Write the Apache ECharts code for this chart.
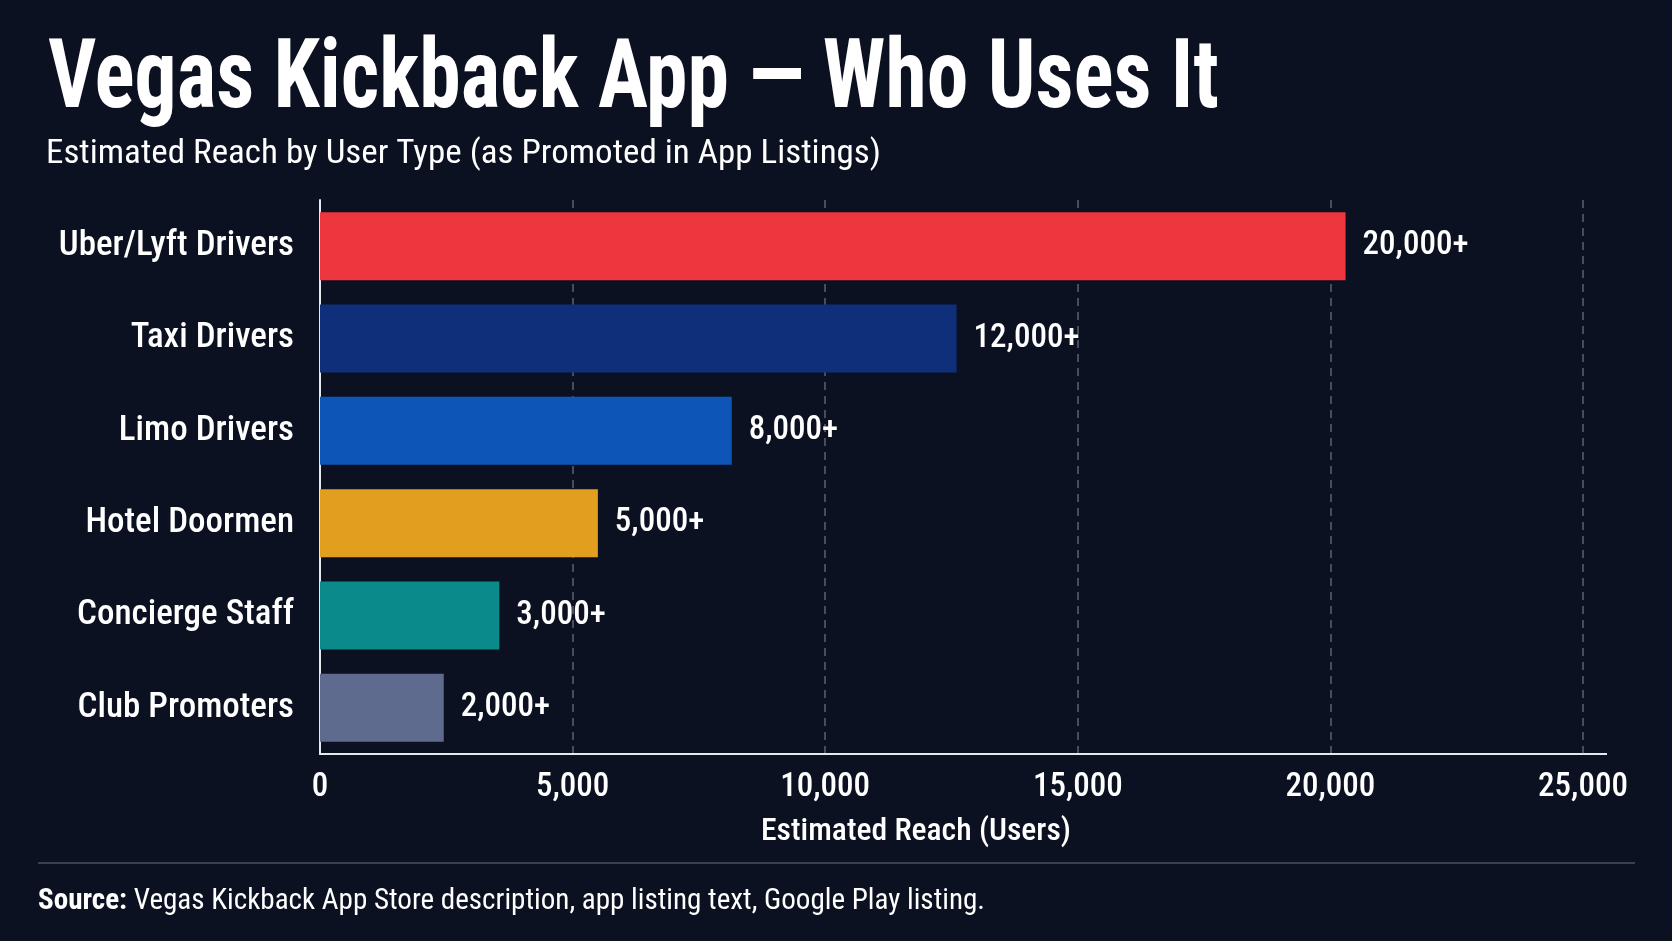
<!DOCTYPE html>
<html>
<head>
<meta charset="utf-8">
<script src="https://cdn.jsdelivr.net/npm/echarts@6/dist/echarts.min.js"></script>
<style>
    html, body { margin: 0; padding: 0; background: #0c1122; }
    #reachChart { width: 1672px; height: 941px; }
</style>
</head>
<body>
<div id="reachChart"></div>
<script>
    // data
    var categories = ['Uber/Lyft Drivers', 'Taxi Drivers', 'Limo Drivers', 'Hotel Doormen', 'Concierge Staff', 'Club Promoters'];
    var reach = [20300, 12600, 8150, 5500, 3550, 2450];
    var reachLabels = ['20,000+', '12,000+', '8,000+', '5,000+', '3,000+', '2,000+'];
    var barColors = ['#ee363f', '#0f2f7a', '#0d56b8', '#e29f1f', '#0a8a8a', '#5e6a8e'];
    var xTicks = [0, 5000, 10000, 15000, 20000, 25000];

    var FONT = "'Roboto Condensed', Roboto, sans-serif";

    var ctx = document.createElement('canvas').getContext('2d');
    function textWidth(str, size, weight) {
        ctx.font = weight + ' ' + size + 'px ' + FONT;
        return ctx.measureText(str).width;
    }
    // text squeezed to the width it has in the reference
    function fitted(str, x, y, size, weight, width, align) {
        return {
            type: 'text', x: x, y: y,
            scaleX: width / textWidth(str, size, weight),
            style: {
                text: str, x: 0, y: 0, fill: '#ffffff',
                font: weight + ' ' + size + 'px ' + FONT,
                textAlign: align || 'left', textVerticalAlign: 'middle'
            }
        };
    }

    var myChart = echarts.init(document.getElementById('reachChart'));
    var sourceRest = ' Vegas Kickback App Store description, app listing text, Google Play listing.';

    myChart.setOption({
        backgroundColor: '#0c1122',
        grid: { left: 320, right: 89, top: 200, bottom: 187 },
        xAxis: {
            type: 'value', min: 0, max: 25000, interval: 5000,
            axisLine: { show: true, lineStyle: { color: '#e6e8ee', width: 2 } },
            axisTick: { show: false },
            splitLine: { show: true, lineStyle: { color: '#5b6272', type: [8, 6], width: 1.5 } },
            axisLabel: {
                color: '#ffffff', fontSize: 33, fontWeight: 500, fontFamily: FONT, margin: 17,
                formatter: function (v) { return xTicks.indexOf(v) >= 0 ? v.toLocaleString('en-US') : ''; }
            }
        },
        yAxis: {
            type: 'category', data: categories, inverse: true,
            axisLine: { show: true, lineStyle: { color: '#e6e8ee', width: 2 } },
            axisTick: { show: false },
            axisLabel: {
                color: '#ffffff', fontSize: 35, fontWeight: 500, fontFamily: FONT, margin: 26,
                padding: [6, 0, 0, 0]
            }
        },
        series: [{
            type: 'bar',
            barWidth: 68,
            data: reach.map(function (v, i) {
                return { value: v, itemStyle: { color: barColors[i] } };
            }),
            label: {
                show: true, position: 'right', distance: 17, padding: [6, 0, 0, 0],
                color: '#ffffff', fontSize: 33, fontWeight: 500, fontFamily: FONT,
                formatter: function (p) { return reachLabels[p.dataIndex]; }
            }
        }],
        graphic: [
            fitted('Vegas Kickback App \u2014 Who Uses It', 48, 83, 97, 'bold', 1171),
            fitted('Estimated Reach by User Type (as Promoted in App Listings)', 46, 155, 33, 'normal', 835),
            fitted('Estimated Reach (Users)', 916, 832, 32, 500, 310, 'center'),
            { type: 'line', shape: { x1: 38, y1: 863, x2: 1635, y2: 863 }, style: { stroke: '#4b5060', lineWidth: 1.5 } },
            { type: 'line', shape: { x1: 1583, y1: 754, x2: 1607, y2: 754 }, style: { stroke: '#e6e8ee', lineWidth: 2 } },
            {
                type: 'text', x: 38, y: 902,
                scaleX: 947 / (textWidth('Source:', 29, 'bold') + textWidth(sourceRest, 29, 'normal')),
                style: {
                    text: '{b|Source:}{r|' + sourceRest + '}', x: 0, y: 0,
                    textVerticalAlign: 'middle',
                    rich: {
                        b: { fill: '#ffffff', fontSize: 29, fontWeight: 'bold', fontFamily: FONT },
                        r: { fill: '#ffffff', fontSize: 29, fontWeight: 'normal', fontFamily: FONT }
                    }
                }
            }
        ]
    });
</script>
</body>
</html>
